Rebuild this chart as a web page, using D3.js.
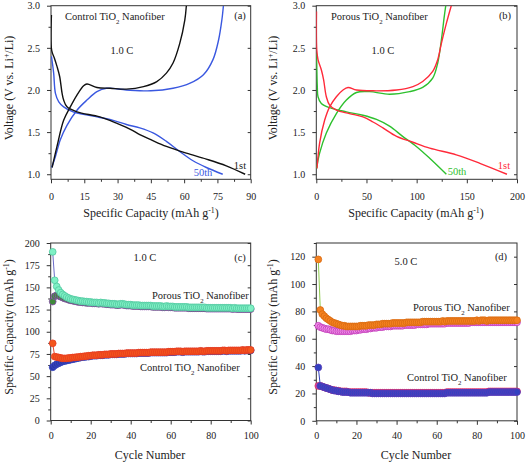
<!DOCTYPE html>
<html><head><meta charset="utf-8">
<script src="https://cdn.jsdelivr.net/npm/d3@7"></script>
<style>
body{margin:0;background:#fff;}
svg, svg text{font-family:"Liberation Serif","Tinos","DejaVu Serif",serif !important;}
</style></head>
<body><svg id="c" width="526" height="464"></svg>
<script>
// ---------- DATA ----------
// Panel (a): Control TiO2 nanofiber, [capacity mAh/g, voltage V]
const aDis1st = [[0.2,2.89],[0.3,2.47],[1.5,2.38],[2.7,2.28],[3.9,2.16],[5,1.96],[5.7,1.88],[7.2,1.8],[11.7,1.74],[22,1.68],[30,1.6],[36,1.53],[40,1.47],[45,1.41],[52,1.33],[61,1.25],[70,1.18],[79,1.1],[87.5,1.0]];
const aCha1st = [[0.5,1.08],[2.7,1.33],[5.7,1.64],[8.7,1.8],[11.7,1.94],[14.7,2.05],[16.2,2.07],[20.7,2.03],[26.7,2.02],[34,2.01],[41.7,2.04],[47.7,2.1],[52,2.2],[55,2.32],[58,2.55],[60.3,2.83],[61,3.0]];
const aDis50th = [[0.2,2.4],[1.2,2.2],[2,1.96],[3.5,1.86],[5.7,1.8],[10,1.74],[19,1.69],[28,1.64],[34,1.59],[40,1.55],[46,1.49],[52,1.39],[58,1.27],[64,1.16],[70,1.08],[77.4,1.0]];
const aCha50th = [[0.3,1.08],[2,1.21],[4.2,1.41],[7.2,1.58],[11.7,1.76],[16.2,1.88],[20.7,1.98],[25,2.02],[34,2.0],[45,1.99],[55,2.02],[62.7,2.08],[68.7,2.18],[73,2.36],[75.5,2.59],[77,2.83],[77.7,3.0]];
// Panel (b): Porous TiO2 nanofiber
const bDis1st = [[0.2,2.93],[0.5,2.47],[1.7,2.36],[5,2.24],[7.3,2.12],[10,1.92],[13.3,1.82],[20,1.76],[33,1.72],[46.5,1.68],[56.5,1.62],[66.4,1.55],[80,1.45],[96.3,1.38],[113,1.31],[139.5,1.23],[163,1.13],[190,1.0]];
const bCha1st = [[0.7,1.07],[3.3,1.37],[8.3,1.64],[13.3,1.8],[20,1.92],[26.6,2.0],[31.6,2.03],[40,2.0],[56.5,1.99],[80,2.0],[96.3,2.04],[106,2.1],[116,2.22],[121,2.36],[124.6,2.55],[129.6,2.79],[134.5,3.0]];
const bDis50th = [[0.3,2.43],[1,2.04],[1.7,1.92],[5,1.84],[13.3,1.79],[30,1.74],[46.5,1.7],[60,1.65],[73,1.57],[86,1.45],[99.7,1.33],[113,1.19],[129.6,1.0]];
const bCha50th = [[0.3,1.07],[3.3,1.25],[10,1.49],[20,1.72],[30,1.88],[40,1.97],[53,1.98],[73,1.95],[93,1.98],[106,2.03],[116,2.14],[121,2.32],[124.6,2.59],[127.5,2.87],[129,3.0]];

// Panels (c),(d): cycle numbers 1..100 and capacities (mAh/g)
const cycles = Array.from({length:100},(_, i)=>i+1);
const cPorousDis = [190,158,151,147,144,142,140.5,139,138,137,
136.5,136,135.5,135,134.5,134.5,134,134,133.5,133.5,
133,133,133,132.5,133,132.5,132.5,132,132,131.5,
131.5,131.5,131,131,131.5,131.5,131,130.5,130.5,130.5,
130,130,130,130,129.5,129.5,129.5,129.5,129.5,129.5,
129,129,129,129,129,128.5,128.5,129,128.5,128.5,
128.5,128,128,128,128,128,128,128,127.5,127.5,
127.5,127.5,127.5,127.5,127.5,127.5,127.5,127,127,127,
127,127,127,127,127,127,127,127,127,127,
126.5,127,126.5,126.5,126.5,126.5,126.5,126.5,126.5,126.5];
const cPorousCha = [134,140,141,140.5,139.5,138.5,137.5,137,136,135.5,
135,134.5,134,133.5,133.5,133,133,132.5,132.5,132.5,
132,132,132,131.5,132,131.5,131.5,131,131,130.5,
130.5,130.5,130,130,130.5,130.5,130,129.5,129.5,129.5,
129,129,129,129,128.5,128.5,128.5,128.5,128.5,128.5,
128,128,128,128,128,127.5,127.5,128,127.5,127.5,
127.5,127,127,127,127,127,127,127,126.5,126.5,
126.5,126.5,126.5,126.5,126.5,126.5,126.5,126,126,126,
126,126,126,126,126,126,126,126,126,126,
125.5,126,125.5,125.5,125.5,125.5,125.5,125.5,125.5,125.5];
const cControlDis = [87,72,71.5,71,70.5,70,70,70,70.5,70.5,
71,71,71.5,71.5,72,72,72.5,72.5,73,73,
73.5,73.5,73.5,74,74,74,74.5,74.5,74.5,75,
75,75,75,75.5,75.5,75.5,75.5,76,76,76,
76,76,76,76.5,76.5,76.5,76.5,76.5,76.5,77,
77,77,77,77,77,77,77,77,77.5,77.5,
77.5,77.5,78,78,78,77.5,78,78,78,78,
78,78,78,78,78.5,78,78,78.5,78.5,78.5,
78.5,78.5,78.5,78.5,78.5,79,79,78.5,79,79,
79,79,79,79,79,79.5,79,79.5,79.5,79.5];
const cControlCha = [60,62,63.5,64.5,65.5,66.5,67,67.5,68,68.5,
69,69.5,70,70.5,71,71.5,71.5,72,72,72.5,
73,73,73,73.5,73.5,73.5,74,74,74,74.5,
74.5,74.5,74.5,75,75,75,75,75.5,75.5,75.5,
75.5,75.5,75.5,76,76,76,76,76,76,76.5,
76.5,76.5,76.5,76.5,76.5,76.5,76.5,76.5,77,77,
77,77,77.5,77.5,77.5,77,77.5,77.5,77.5,77.5,
77.5,77.5,77.5,77.5,78,77.5,77.5,78,78,78,
78,78,78,78,78,78.5,78.5,78,78.5,78.5,
78.5,78.5,78.5,78.5,78.5,79,78.5,79,79,79];
const dPorousDis = [118,81,78,76.5,75,74,73,72,71.5,71,
70.5,70,69.5,69.5,69,69,69,69,69,69,
69,69.5,69.5,69.5,69.5,70,70,70,70,70.5,
70.5,70.5,71,71,71,71,71,71.5,71.5,71.5,
71.5,71.5,71.5,71.5,72,72,72,72,72,72,
72,72,72.5,72.5,72.5,72.5,72.5,72.5,72.5,72.5,
72.5,72.5,73,72.5,73,73,73,73,73,73,
73,73,73,73,73,73,73,73,73,73.5,
73,73.5,73.5,73.5,73,73.5,73.5,73.5,73.5,73.5,
73.5,73.5,73.5,73.5,73.5,73.5,73.5,73.5,73.5,73.5];
const dPorousCha = [69.5,68.5,68,67.5,67,67,66.5,66,66,65.5,
65.5,65.5,65.5,65.5,65.5,65.5,65.5,66,66,66,
66.5,66.5,67,67,67,67.5,67.5,68,68,68,
68.5,68.5,68.5,69,69,69,69,69.5,69.5,69.5,
69.5,69.5,69.5,70,70,70,70,70,70,70.5,
70.5,70.5,70.5,70.5,70.5,71,71,71,71,71,
71,71,71,71,71.5,71.5,71.5,71.5,71.5,71.5,
71.5,71.5,71.5,71.5,71.5,71.5,72,72,72,72,
72,72,72,72,72,72,72,72,72,72,
72,72,72,72,72,72,72,72,72,72];
const dControlDis = [39,25.5,25,24.5,24,23.5,23,22.5,22,22,
21.5,21.5,21,21,21,21,20.5,20.5,20.5,20.5,
20.5,20.5,20.5,20.5,20.5,20.5,20.5,20,20,20,
20,20,20,20,20,20,20,20,20,20,
20,20,20,20,20,20,20,20,20,20,
20,20,20,20,20,20,20,20,20,20,
20,20,20,20,20.5,20.5,20.5,20.5,20.5,20.5,
20.5,20.5,20.5,20.5,20.5,20.5,20.5,20.5,20.5,20.5,
20.5,20.5,20.5,20.5,20.5,21,21,21,21,21,
21,21,21,21,21,21,21,21,21,21];
const dControlCha = [25.5,25.5,25,24.5,24,23.5,23,22.5,22.5,22,
22,21.5,21.5,21.5,21.5,21,21,21,21,21,
21,21,21,21,21,20.5,20.5,20.5,20.5,20.5,
20.5,20.5,20.5,20.5,20.5,20.5,20.5,20.5,20.5,20.5,
20.5,20.5,20.5,20.5,20.5,20.5,20.5,20.5,20.5,20.5,
20.5,20.5,20.5,20.5,20.5,20.5,20.5,20.5,20.5,20.5,
20.5,20.5,20.5,20.5,21,21,21,21,21,21,
21,21,21,21,21,21,21,21,21,21,
21,21,21,21,21,21.5,21.5,21.5,21.5,21.5,
21.5,21.5,21.5,21.5,21.5,21.5,21.5,21.5,21.5,21.5];

// tick values
const aXTicks = [0,15,30,45,60,75,90];
const bXTicks = [0,50,100,150,200];
const vTicks = [1.0,1.5,2.0,2.5,3.0];
const cycTicks = [0,20,40,60,80,100];
const cYTicks = [0,25,50,75,100,125,150,175,200];
const dYTicks = [0,20,40,60,80,100,120];

// ---------- DRAW ----------
const FONT = "'Liberation Serif','Tinos','DejaVu Serif',serif";
const svg = d3.select("#c").style("font-family",FONT);

function panel(p){
  const x = d3.scaleLinear().domain(p.xd).range([p.l,p.r]);
  const y = d3.scaleLinear().domain(p.yd).range([p.b,p.t]);
  const g = svg.append("g");
  g.append("rect").attr("x",p.l).attr("y",p.t).attr("width",p.r-p.l).attr("height",p.b-p.t)
    .attr("fill","none").attr("stroke","#333").attr("stroke-width",1);
  const style = sel => { sel.attr("font-family",null).select(".domain").remove();
    sel.selectAll("line").attr("stroke","#333");
    sel.selectAll("text").attr("font-size","10px").style("font-family",FONT).attr("fill","#222"); };
  g.append("g").attr("transform",`translate(0,${p.b})`)
    .call(d3.axisBottom(x).tickValues(p.xm).tickSize(2.5).tickFormat("")).call(style);
  g.append("g").attr("transform",`translate(${p.l},0)`)
    .call(d3.axisLeft(y).tickValues(p.ym).tickSize(2.5).tickFormat("")).call(style);
  g.append("g").attr("transform",`translate(0,${p.b})`)
    .call(d3.axisBottom(x).tickValues(p.xt).tickSize(4).tickPadding(p.xpad).tickFormat(p.xf||d3.format("d"))).call(style);
  g.append("g").attr("transform",`translate(${p.l},0)`)
    .call(d3.axisLeft(y).tickValues(p.yt).tickSize(4).tickPadding(7).tickFormat(p.yf||d3.format("d"))).call(style);
  g.append("g").attr("transform",`translate(${p.r},0)`)
    .call(d3.axisRight(y).tickValues(p.yt).tickSize(-3).tickFormat("")).call(style);
  return {x,y,g};
}

function richText(parent, xPos, yPos, parts, opt={}){
  const t = parent.append("text").attr("x",xPos).attr("y",yPos)
    .style("font-family",FONT)
    .attr("font-size",(opt.size||10.5)+"px").attr("text-anchor",opt.anchor||"start")
    .attr("fill",opt.fill||"#222");
  if(opt.rotate) t.attr("transform",`rotate(-90,${xPos},${yPos})`);
  parts.forEach(pt=>{
    if(typeof pt==="string"){ t.append("tspan").text(pt); }
    else {
      t.append("tspan").attr("baseline-shift",pt.sup?"super":"sub").attr("font-size","65%").text(pt.t);
    }
  });
  return t;
}

function clip(n,p){
  svg.append("clipPath").attr("id","clip"+n).append("rect")
    .attr("x",p.l).attr("y",p.t).attr("width",p.r-p.l).attr("height",p.b-p.t);
}

const pa = {l:51,r:250.7,t:5.7,b:179.3,xd:[0,90],yd:[0.94,3.0],xt:aXTicks,xm:d3.range(7.5,90,15),yt:vTicks,ym:[1.25,1.75,2.25,2.75],yf:d3.format(".1f"),xpad:10};
const A = panel(pa); clip("a",pa);
const pb = {l:316.3,r:517,t:5.7,b:179.3,xd:[0,200],yd:[0.94,3.0],xt:bXTicks,xm:[25,75,125,175],yt:vTicks,ym:[1.25,1.75,2.25,2.75],yf:d3.format(".1f"),xpad:10};
const B = panel(pb); clip("b",pb);
const pc = {l:50.7,r:250.7,t:243,b:420.5,xd:[0,100],yd:[0,200],xt:cycTicks,xm:d3.range(10,100,20),yt:cYTicks,ym:d3.range(12.5,200,25),xpad:7};
const C = panel(pc);
const pd = {l:316.3,r:517,t:243,b:420.8,xd:[0,100],yd:[0,130],xt:cycTicks,xm:d3.range(10,100,20),yt:dYTicks,ym:[10,30,50,70,90,110,130],xpad:7};
const D = panel(pd);

function curves(P, id, list){
  const line = d3.line().x(d=>P.x(d[0])).y(d=>P.y(d[1])).curve(d3.curveCatmullRom.alpha(0.5));
  list.forEach(([data,color])=>{
    P.g.append("path").attr("d",line(data)).attr("fill","none").attr("stroke",color)
      .attr("stroke-width",1.4).attr("clip-path",`url(#clip${id})`);
  });
}
curves(A,"a",[[aDis50th,"#3a58e0"],[aCha50th,"#3a58e0"],[aDis1st,"#111"],[aCha1st,"#111"]]);
curves(B,"b",[[bDis50th,"#2ec02e"],[bCha50th,"#2ec02e"],[bDis1st,"#ff2a3a"],[bCha1st,"#ff2a3a"]]);

function scatter(P, vals, fill, stroke, lineColor){
  const line = d3.line().x((d,i)=>P.x(cycles[i])).y(d=>P.y(d));
  P.g.append("path").attr("d",line(vals)).attr("fill","none").attr("stroke",lineColor).attr("stroke-width",1);
  P.g.append("g").selectAll("circle").data(vals).join("circle")
    .attr("cx",(d,i)=>P.x(cycles[i])).attr("cy",d=>P.y(d)).attr("r",3.4)
    .attr("fill",fill).attr("stroke",stroke).attr("stroke-width",0.8);
}
scatter(C, cPorousCha, "#3f8a3a", "#8a48b0", "#8a48b0");
scatter(C, cPorousDis, "#7ff0c4", "#50c8a0", "#6a6ac8");
scatter(C, cControlCha, "#2a36a8", "#3a48c0", "#3a48c0");
scatter(C, cControlDis, "#f2561c", "#e83a20", "#e84a30");
scatter(D, dPorousCha, "#f08ae8", "#c03cb8", "#9ad860");
scatter(D, dPorousDis, "#f58220", "#d86a10", "#90cc50");
scatter(D, dControlCha, "#c04ab8", "#e8305a", "#e8305a");
scatter(D, dControlDis, "#3242c0", "#5a3ab8", "#3242c0");

const capTitle = ["Specific Capacity (mAh g",{t:"-1",sup:true},")"];
richText(svg,151,217,capTitle,{size:12,anchor:"middle"});
richText(svg,416,217,capTitle,{size:12,anchor:"middle"});
richText(svg,150,459,["Cycle Number"],{size:12,anchor:"middle"});
richText(svg,416,459,["Cycle Number"],{size:12,anchor:"middle"});
const vTitle = ["Voltage (V vs. Li",{t:"+",sup:true},"/Li)"];
richText(svg,13,88,vTitle,{size:12,anchor:"middle",rotate:true});
richText(svg,277,88,vTitle,{size:12,anchor:"middle",rotate:true});
richText(svg,13,327,capTitle,{size:12,anchor:"middle",rotate:true});
richText(svg,277,327,capTitle,{size:12,anchor:"middle",rotate:true});

richText(svg,65,20,["Control TiO",{t:"2"}," Nanofiber"]);
richText(svg,122,54,["1.0 C"],{anchor:"middle"});
richText(svg,240,19,["(a)"],{anchor:"middle"});
richText(svg,240,169,["1st"],{anchor:"middle"});
richText(svg,203,176,["50th"],{anchor:"middle",fill:"#3a58e0"});

richText(svg,331,20,["Porous TiO",{t:"2"}," Nanofiber"]);
richText(svg,383,54,["1.0 C"],{anchor:"middle"});
richText(svg,505,19,["(b)"],{anchor:"middle"});
richText(svg,504,169,["1st"],{anchor:"middle",fill:"#ff2a3a"});
richText(svg,457,175,["50th"],{anchor:"middle",fill:"#2ec02e"});

richText(svg,145,261,["1.0 C"],{anchor:"middle"});
richText(svg,240,261,["(c)"],{anchor:"middle"});
richText(svg,152,299,["Porous TiO",{t:"2"}," Nanofiber"]);
richText(svg,140,371,["Control TiO",{t:"2"}," Nanofiber"]);

richText(svg,406,265,["5.0 C"],{anchor:"middle"});
richText(svg,501,260,["(d)"],{anchor:"middle"});
richText(svg,413,311,["Porous TiO",{t:"2"}," Nanofiber"]);
richText(svg,407,381,["Control TiO",{t:"2"}," Nanofiber"]);
</script></body></html>
